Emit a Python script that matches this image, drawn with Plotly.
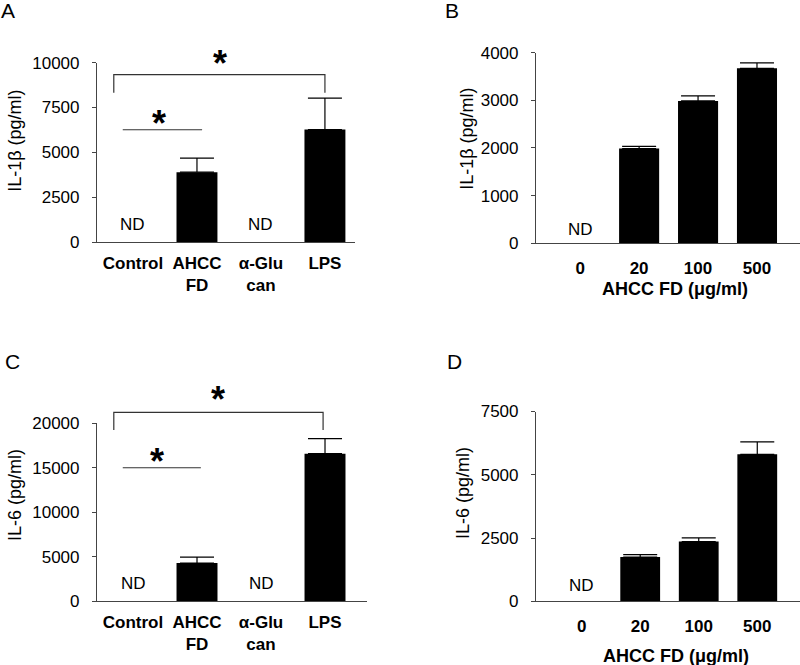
import plotly.graph_objects as go

W, H = 800, 665
FONT = "Liberation Sans, Arial, sans-serif"

# ---- data ----
cats_ac = ["Control", "AHCC<br>FD", "α-Glu<br>can", "LPS"]
cats_bd = ["0", "20", "100", "500"]

il1b_groups = [None, 3900, None, 6270]
il1b_groups_err = [0, 780, 0, 1750]

il1b_dose = [None, 1985, 2985, 3670]
il1b_dose_err = [0, 45, 105, 115]

il6_groups = [None, 4310, None, 16580]
il6_groups_err = [0, 675, 0, 1690]

il6_dose = [None, 1755, 2365, 5810]
il6_dose_err = [0, 95, 143, 490]

ticks_a = [0, 2500, 5000, 7500, 10000]
ticks_b = [0, 1000, 2000, 3000, 4000]
ticks_c = [0, 5000, 10000, 15000, 20000]
ticks_d = [0, 2500, 5000, 7500]

# empirical vertical compensation of the capture
VS, VO = 0.968, 10.6


def px_x(p):
    return p / W


def px_y(p):
    return 1 - ((p - VO) / VS) / H


# panel geometry in pixels (left, right, top(ymax), bottom(0))
panels = {
    "a": dict(l=97, r=355, t=64, b=243),
    "b": dict(l=536, r=800, t=54, b=244),
    "c": dict(l=97, r=367, t=423.3, b=601),
    "d": dict(l=536, r=800, t=411.7, b=601),
}

fig = go.Figure()


def add_bars(values, errs, cats, xa, ya, width):
    fig.add_trace(go.Bar(
        x=list(range(len(cats))), y=values, xaxis=xa, yaxis=ya,
        width=width, marker=dict(color="black", line=dict(width=0)),
        error_y=dict(type="data", symmetric=False, array=errs,
                     arrayminus=[0] * len(errs), color="black",
                     thickness=1.2, width=17),
        showlegend=False, hoverinfo="y",
    ))


add_bars(il1b_groups, il1b_groups_err, cats_ac, "x", "y", 0.64)
add_bars(il1b_dose, il1b_dose_err, cats_bd, "x2", "y2", 0.68)
add_bars(il6_groups, il6_groups_err, cats_ac, "x3", "y3", 0.64)
add_bars(il6_dose, il6_dose_err, cats_bd, "x4", "y4", 0.68)

axis_line = dict(showline=True, linecolor="#444", linewidth=1.2,
                 showgrid=False, zeroline=False)


def xaxis(p, cats, rng, anchor, standoff):
    return dict(domain=[px_x(p["l"]), px_x(p["r"])], range=rng,
                tickmode="array", tickvals=list(range(len(cats))),
                ticktext=[f"<b>{c}</b>" for c in cats], ticks="",
                ticklabelstandoff=standoff, anchor=anchor,
                tickfont=dict(size=17, family=FONT, color="black"),
                **axis_line)


def yaxis(p, ticks, anchor):
    return dict(domain=[px_y(p["b"]), px_y(p["t"])],
                range=[0, ticks[-1]], tickmode="array", tickvals=ticks,
                ticktext=[str(t) for t in ticks], ticks="outside",
                ticklen=4, tickcolor="#444", ticklabelstandoff=9,
                anchor=anchor,
                tickfont=dict(size=17, family=FONT, color="black"),
                **axis_line)


fig.update_layout(
    width=W, height=H, margin=dict(l=0, r=0, t=0, b=0),
    paper_bgcolor="white", plot_bgcolor="white",
    font=dict(family=FONT, color="black"),
    bargap=0.3,
    xaxis=xaxis(panels["a"], cats_ac, [-0.5625, 3.47], "y", 5),
    yaxis=yaxis(panels["a"], ticks_a, "x"),
    xaxis2=xaxis(panels["b"], cats_bd, [-0.75, 3.73], "y2", 9),
    yaxis2=yaxis(panels["b"], ticks_b, "x2"),
    xaxis3=xaxis(panels["c"], cats_ac, [-0.5625, 3.656], "y3", 5),
    yaxis3=yaxis(panels["c"], ticks_c, "x3"),
    xaxis4=xaxis(panels["d"], cats_bd, [-0.78, 3.73], "y4", 9),
    yaxis4=yaxis(panels["d"], ticks_d, "x4"),
)

ann = []
shapes = []

# panel letters (visual centre in px)
for letter, (x, y) in {"A": (8, 12), "B": (452, 12), "C": (12, 362), "D": (454, 362)}.items():
    ann.append(dict(text=letter, x=px_x(x), y=px_y(y), xref="paper", yref="paper",
                    xanchor="center", yanchor="middle", showarrow=False,
                    font=dict(size=21, family=FONT)))

# y titles
ytitles = [("IL-1β (pg/ml)", 15, 142), ("IL-1β (pg/ml)", 467, 140),
           ("IL-6 (pg/ml)", 15, 495), ("IL-6 (pg/ml)", 463, 493)]
for t, x, y in ytitles:
    ann.append(dict(text=t, x=px_x(x), y=px_y(y), xref="paper", yref="paper",
                    xanchor="center", yanchor="middle", textangle=-90,
                    showarrow=False, font=dict(size=18, family=FONT)))

# x titles (dose panels)
for x, y in [(675, 290), (676, 655)]:
    ann.append(dict(text="<b>AHCC FD (μg/ml)</b>", x=px_x(x), y=px_y(y),
                    xref="paper", yref="paper", xanchor="center", yanchor="middle",
                    showarrow=False, font=dict(size=18, family=FONT)))

# ND labels  (axis suffix, category index, fraction of y domain)
nd = [("", 0, 0.10), ("", 2, 0.10), ("2", 0, 0.07),
      ("3", 0, 0.10), ("3", 2, 0.10), ("4", 0, 0.085)]
for s, ci, fy in nd:
    ann.append(dict(text="ND", x=ci, y=fy, xref="x" + s, yref=f"y{s} domain",
                    xanchor="center", yanchor="middle", showarrow=False,
                    font=dict(size=17, family=FONT)))

# significance brackets (A and C)
brackets = [
    # suffix, x left, x right, top frac, leg frac, star x, star frac, line2 x0, x1, frac, star2 x, star2 frac
    ("", -0.30, 3.0, 0.933, 0.832, 1.36, 0.994, -0.16, 1.08, 0.626, 0.40, 0.659),
    ("3", -0.30, 2.97, 1.06, 0.962, 1.33, 1.133, -0.16, 1.06, 0.75, 0.375, 0.786),
]
for s, xl, xr, top, leg, sx, sy, l0, l1, lf, s2x, s2y in brackets:
    xr_ = "x" + s
    yr_ = f"y{s} domain"
    shapes.append(dict(type="path", xref=xr_, yref=yr_,
                       path=f"M {xl},{leg} L {xl},{top} L {xr},{top} L {xr},{leg}",
                       line=dict(color="#333", width=1.2)))
    shapes.append(dict(type="line", xref=xr_, yref=yr_, x0=l0, x1=l1, y0=lf, y1=lf,
                       line=dict(color="#333", width=1.2)))
    for x, y in [(sx, sy), (s2x, s2y)]:
        ann.append(dict(text="<b>*</b>", x=x, y=y, xref=xr_, yref=yr_,
                        xanchor="center", yanchor="middle", showarrow=False,
                        font=dict(size=36, family=FONT)))

fig.update_layout(annotations=ann, shapes=shapes)
fig.write_html("out.html",
               config={"displayModeBar": False},
               post_script="document.body.style.margin='0';"
                           "document.body.style.overflow='hidden';")
